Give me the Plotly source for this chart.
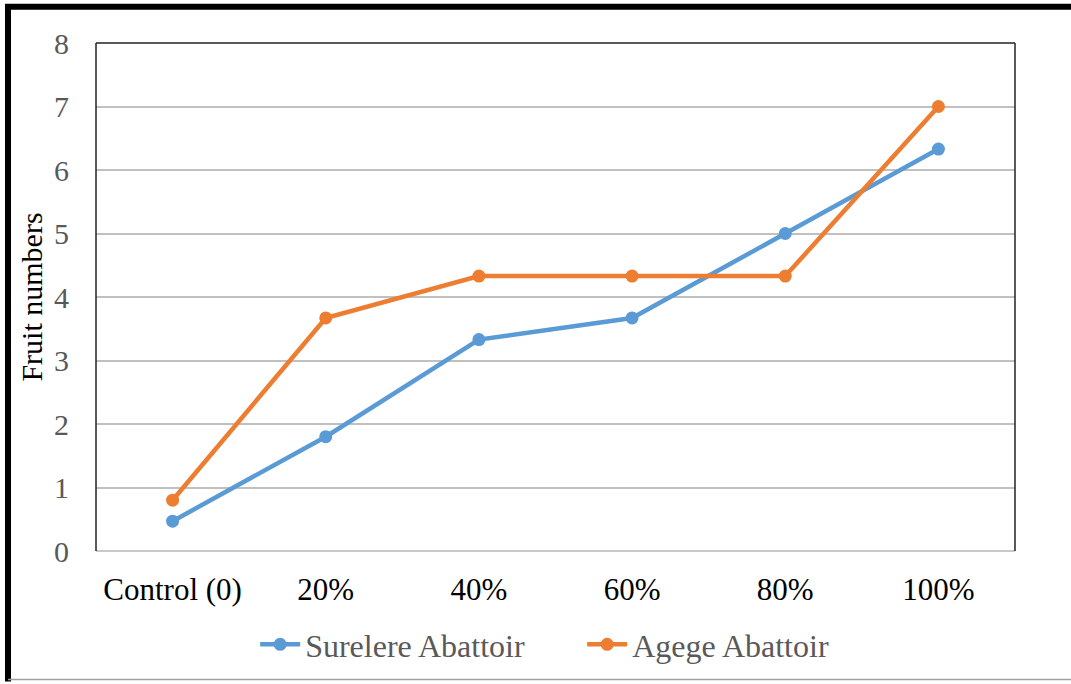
import plotly.graph_objects as go

categories = ["Control (0)", "20%", "40%", "60%", "80%", "100%"]
surelere = [0.47, 1.8, 3.33, 3.67, 5.0, 6.33]
agege = [0.8, 3.67, 4.33, 4.33, 4.33, 7.0]
y_ticks = [0, 1, 2, 3, 4, 5, 6, 7, 8]

W, H = 1071, 684
L, R, T, B = 96, 1015, 43, 553
pw, ph = R - L, B - T

def px(x):
    return (x - L) / pw

def py(y):
    return (B - y) / ph

FONT = "Liberation Serif"

fig = go.Figure()
fig.add_trace(go.Scatter(x=categories, y=surelere, name="Surelere Abattoir",
                         mode="lines+markers",
                         line=dict(color="#5B9BD5", width=4.5),
                         marker=dict(color="#5B9BD5", size=13)))
fig.add_trace(go.Scatter(x=categories, y=agege, name="Agege Abattoir",
                         mode="lines+markers",
                         line=dict(color="#ED7D31", width=4.5),
                         marker=dict(color="#ED7D31", size=13)))

shapes = [
    # outer image frame
    dict(type="line", xref="paper", yref="paper", x0=px(8), x1=px(8), y0=py(4), y1=py(684), line=dict(color="black", width=6)),
    dict(type="line", xref="paper", yref="paper", x0=px(5), x1=px(1071), y0=py(6.5), y1=py(6.5), line=dict(color="black", width=6)),
    dict(type="line", xref="paper", yref="paper", x0=px(8), x1=px(1071), y0=py(682), y1=py(682), line=dict(color="#a0a0a0", width=1.5)),
    # plot box: left, top, right black; bottom gray
    dict(type="line", xref="paper", yref="paper", x0=0, x1=1, y0=0, y1=0, line=dict(color="#c8c8c8", width=2), layer="below"),
    dict(type="line", xref="paper", yref="paper", x0=0, x1=0, y0=0, y1=1, line=dict(color="#222222", width=1.5)),
    dict(type="line", xref="paper", yref="paper", x0=0, x1=1, y0=1, y1=1, line=dict(color="#222222", width=1.5)),
    dict(type="line", xref="paper", yref="paper", x0=1, x1=1, y0=0, y1=1, line=dict(color="#222222", width=1.5)),
]

fig.update_layout(
    width=W, height=H,
    margin=dict(l=L, r=W - R, t=T, b=H - B),
    paper_bgcolor="white", plot_bgcolor="white",
    showlegend=True,
    legend=dict(orientation="h", x=0.529, xanchor="center", y=-0.13, yanchor="top",
                font=dict(family=FONT, size=32, color="#595959"),
                itemwidth=40, entrywidth=272),
    shapes=shapes,
    xaxis=dict(type="category", range=[-0.5, 5.5], showgrid=False, zeroline=False,
               ticks="outside", ticklen=11, tickcolor="rgba(0,0,0,0)",
               tickfont=dict(family=FONT, size=31, color="black"),
               showline=False),
    yaxis=dict(range=[0, 8], tickvals=y_ticks, showgrid=True, gridcolor="#c0c0c0", gridwidth=1.5,
               zeroline=False, ticks="outside", ticklen=20, tickcolor="rgba(0,0,0,0)",
               tickfont=dict(family=FONT, size=30, color="#595959"),
               title=dict(text="Fruit numbers", standoff=2,
                          font=dict(family=FONT, size=30, color="black")),
               showline=False),
)
fig.write_html("out.html", config={"displayModeBar": False},
               post_script="document.body.style.margin='0';document.body.style.padding='0';")
